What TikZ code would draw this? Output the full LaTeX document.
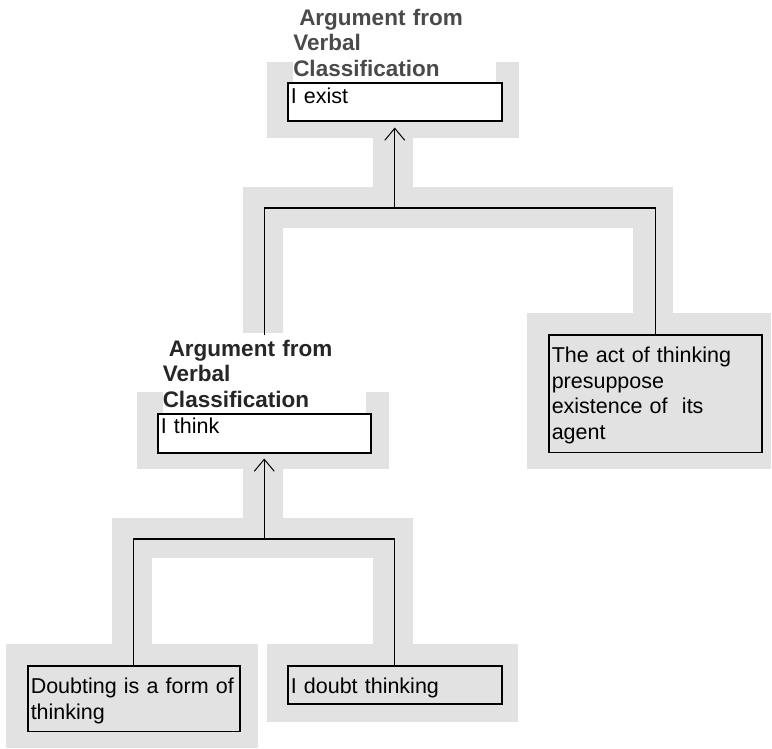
\documentclass[tikz,border=0pt]{standalone}
\usepackage{fontspec}
\setmainfont{Liberation Sans}
\usetikzlibrary{arrows.meta}
\definecolor{bandgray}{HTML}{E2E2E2}
\definecolor{headgray}{HTML}{4A4A4A}
\definecolor{headdark}{HTML}{262626}
\newcommand{\padtop}[1]{\rule{0pt}{#1}}
\newcommand{\padbot}[1]{\rule[-#1]{0pt}{#1}}
\tikzset{
  every picture/.style={x=1pt, y=-1pt, line join=miter},
  band/.style={fill=bandgray},
  claim/.style={draw, line width=1.5pt, anchor=north west, align=left,
    inner xsep=3pt, inner ysep=0pt, text width=#1,
    font=\fontsize{21.5pt}{25.5pt}\selectfont},
  leaf/.style={claim=#1, fill=bandgray},
  scheme/.style={fill=white, anchor=south, align=left, text width=203pt,
    inner xsep=0pt, inner ysep=0pt,
    font=\fontsize{22.5pt}{25.5pt}\selectfont\bfseries},
  link/.style={line width=1.2pt},
  support/.style={link, -{Straight Barb[length=12pt,width=20pt,line width=1pt]}},
}

\begin{document}
\begin{tikzpicture}
\useasboundingbox (0,0) rectangle (772,748);
% grey bands behind the tree
\fill[band] (267,62) rectangle (519,138);
\fill[band] (373,138) rectangle (413,187);
\fill[band] (243,187) rectangle (673,228);
\fill[band] (243,228) rectangle (283,333);
\fill[band] (633,228) rectangle (673,313);
\fill[band] (527,313) rectangle (771,469);
\fill[band] (137,392) rectangle (389,469);
\fill[band] (243,469) rectangle (283,518);
\fill[band] (112,518) rectangle (413,558);
\fill[band] (112,558) rectangle (152,644);
\fill[band] (373,558) rectangle (413,644);
\fill[band] (6,644) rectangle (258,748);
\fill[band] (267,644) rectangle (518,722);
% claims
\node[claim=208pt, fill=white] (exist) at (287,82) {\padtop{21pt}I exist\padbot{17pt}};
\node[claim=207pt, fill=white] (think) at (157,413) {\padtop{20pt}I think\padbot{19pt}};
\node[leaf=207pt] (act) at (548,334) {\padtop{28pt}The act of thinking\\presuppose\\existence of\ \ its\\agent\padbot{13pt}};
\node[leaf=206pt] (doubting) at (27,665) {\padtop{28pt}Doubting is a form of\\thinking\padbot{12pt}};
\node[leaf=208pt] (doubt) at (287,665) {\padtop{28pt}I doubt thinking\padbot{10pt}};
% scheme labels
\node[scheme, text=headgray] (existlabel) at (exist.north) {\padtop{21pt}\hspace{6pt}Argument from\\Verbal\\Classification\padbot{5.5pt}};
\node[scheme, text=headdark] (thinklabel) at (think.north) {\padtop{21pt}\hspace{6pt}Argument from\\Verbal\\Classification\padbot{5.5pt}};
% connectors
\path (0,208) coordinate (toprow) (0,539) coordinate (lowrow);
\coordinate (topfork) at (exist.south |- toprow);
\coordinate (lowfork) at (think.south |- lowrow);
\draw[link] (thinklabel.north) |- (topfork) -| (act.north);
\draw[support, shorten >=6pt] (topfork) -- (exist.south);
\draw[link] (doubting.north) |- (lowfork) -| (doubt.north);
\draw[support, shorten >=5pt] (lowfork) -- (think.south);
\end{tikzpicture}
\end{document}
